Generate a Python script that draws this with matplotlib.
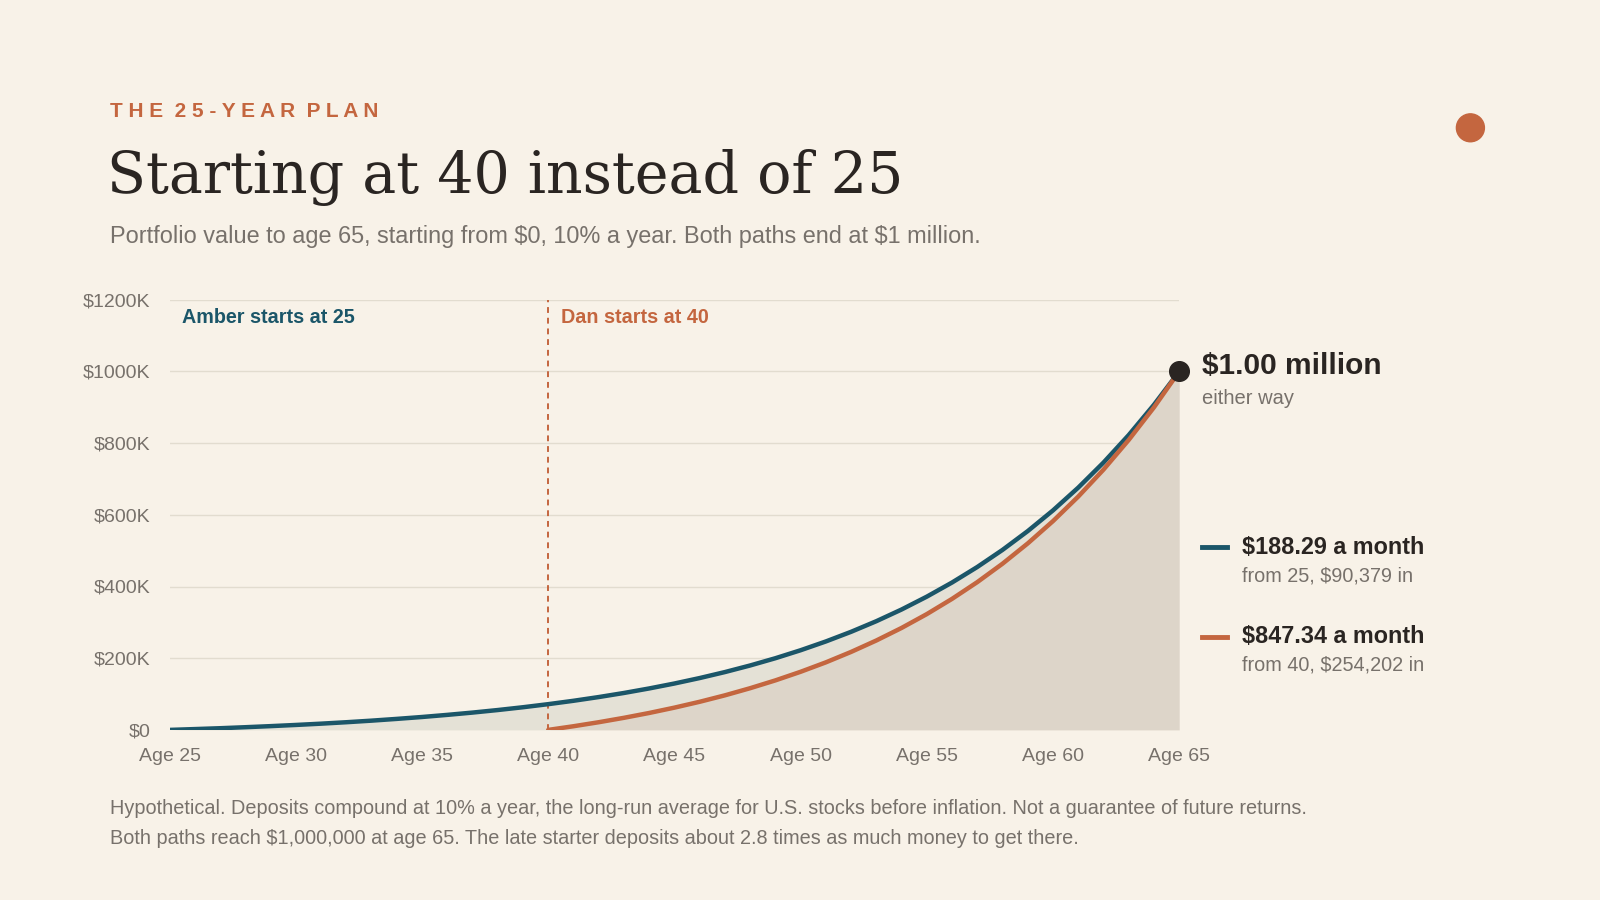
import numpy as np
import matplotlib
matplotlib.use("agg")
import matplotlib.pyplot as plt

# portfolio values in $K
amber_ages = list(range(25, 66))
amber_vals = [0, 2.3, 4.7, 7.5, 10.5, 13.8, 17.4, 21.4, 25.8, 30.7, 36.0, 41.9, 48.3, 55.4,
              63.2, 71.8, 81.2, 91.6, 103.0, 115.6, 129.4, 144.6, 161.3, 179.7, 199.9, 222.2,
              246.7, 273.6, 303.2, 335.8, 371.7, 411.1, 454.4, 502.1, 554.6, 612.3, 675.8,
              745.7, 822.5, 907.0, 1000.0]
dan_ages = list(range(40, 66))
dan_vals = [0, 10.2, 21.4, 33.7, 47.2, 62.1, 78.4, 96.4, 116.3, 138.1, 162.1, 188.4, 217.5,
            249.4, 284.4, 323.0, 365.5, 412.2, 463.6, 520.2, 582.4, 650.8, 726.0, 808.8,
            899.7, 1000.0]
x_ticks = [25, 30, 35, 40, 45, 50, 55, 60, 65]
y_ticks = [0, 200, 400, 600, 800, 1000, 1200]

BG = "#f8f2e8"
TEAL = "#1b5669"
ORANGE = "#c4663f"
GREY = "#77716b"
DARK = "#2a2522"
plt.rcParams['font.family'] = ['Liberation Sans', 'DejaVu Sans']
plt.rcParams['text.parse_math'] = False

fig = plt.figure(figsize=(16, 9), dpi=100, facecolor=BG)
ax = fig.add_axes([0.106, 0.189, 0.631, 0.478], facecolor=BG)

a = np.array(amber_vals)
d = np.array(dan_vals)
a_late = a[15:]
ax.fill_between(amber_ages[:16], 0, a[:16], color="#e4e1d6", lw=0)
ax.fill_between(dan_ages, d, a_late, color="#e4e1d6", lw=0)
ax.fill_between(dan_ages, 0, d, color="#ddd5c9", lw=0)
ax.plot(amber_ages, a, color=TEAL, lw=3.2, solid_capstyle="round", zorder=3)
ax.plot(dan_ages, d, color=ORANGE, lw=3.2, solid_capstyle="round", zorder=4)
ax.axvline(40, color=ORANGE, lw=1.4, ls=(0, (3, 2.5)), zorder=2)
ax.scatter([65], [1000], s=200, color=DARK, zorder=5, clip_on=False)

ax.set_xlim(25, 65)
ax.set_ylim(0, 1200)
ax.set_yticks(y_ticks)
ax.set_yticklabels([f"${v}K" if v else "$0" for v in y_ticks])
ax.set_xticks(x_ticks)
ax.set_xticklabels([f"Age {v}" for v in x_ticks])
ax.grid(axis="y", color="#e2dccf", lw=1)
ax.set_axisbelow(True)
for s in ax.spines.values():
    s.set_visible(False)
ax.tick_params(length=0, labelsize=14, colors=GREY)
ax.tick_params(axis="y", pad=14)
ax.tick_params(axis="x", pad=13)

ax.text(25.5, 1150, "Amber starts at 25", color=TEAL, fontsize=14.2, weight="bold", va="center")
ax.text(40.5, 1150, "Dan starts at 40", color=ORANGE, fontsize=14.2, weight="bold", va="center")
ax.text(65.9, 1015, "$1.00 million", color=DARK, fontsize=21.5, weight="bold", va="center")
ax.text(65.9, 925, "either way", color=GREY, fontsize=14.5, va="center")
for y, col, t1, t2 in [(510, TEAL, "$188.29 a month", "from 25, $90,379 in"),
                       (260, ORANGE, "$847.34 a month", "from 40, $254,202 in")]:
    ax.plot([65.9, 66.9], [y, y], color=col, lw=3.5, clip_on=False)
    ax.text(67.5, y, t1, color=DARK, fontsize=16.8, weight="bold", va="center")
    ax.text(67.5, y - 80, t2, color=GREY, fontsize=14.3, va="center")

# kicker with letter spacing
kicker = "  ".join(w.replace("", " ").strip() for w in "THE 25-YEAR PLAN".split(" "))
fig.text(0.069, 0.876, kicker, color=ORANGE, fontsize=15, weight="bold", va="center")
fig.text(0.067, 0.803, "Starting at 40 instead of 25", color=DARK, fontsize=41,
         family=['DejaVu Serif'], va="center")
fig.text(0.069, 0.737, "Portfolio value to age 65, starting from $0, 10% a year. Both paths end at $1 million.",
         color=GREY, fontsize=16.9, va="center")
fig.text(0.069, 0.102, "Hypothetical. Deposits compound at 10% a year, the long-run average for U.S. stocks before inflation. Not a guarantee of future returns.",
         color=GREY, fontsize=14.3, va="center")
fig.text(0.069, 0.068, "Both paths reach $1,000,000 at age 65. The late starter deposits about 2.8 times as much money to get there.",
         color=GREY, fontsize=14.3, va="center")
fig.patches.append(matplotlib.patches.Ellipse((0.919, 0.858), 0.0175, 0.031, color=ORANGE,
                                              transform=fig.transFigure, figure=fig))

fig.savefig("out.png", facecolor=BG)
